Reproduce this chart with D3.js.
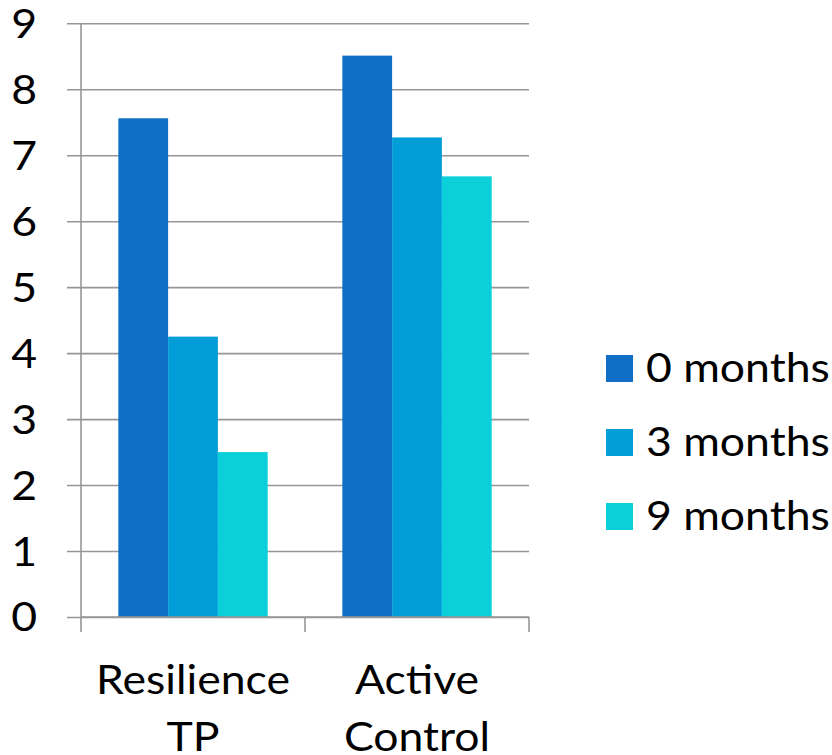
<!DOCTYPE html>
<html>
<head>
<meta charset="utf-8">
<script src="https://cdn.jsdelivr.net/npm/d3@7"></script>
<style>
  html, body { margin: 0; padding: 0; background: #fff; }
  svg { display: block; }
  text { font-family: Lato, "Open Sans", sans-serif; fill: #000; }
</style>
</head>
<body>
<svg id="chart" width="832" height="755"></svg>
<script>
// Groups on the x axis (each label split over two lines)
const categories = ["Resilience TP", "Active Control"];
const categoryLines = [["Resilience", "TP"], ["Active", "Control"]];
// Series: follow-up time points
const seriesNames = ["0 months", "3 months", "9 months"];
const seriesColors = ["#0F6FC6", "#009DD9", "#0BD0D9"];
// Values per series, in category order
const values0 = [7.56, 8.51];
const values3 = [4.25, 7.27];
const values9 = [2.5, 6.68];
const seriesValues = [values0, values3, values9];
const yTicks = [0, 1, 2, 3, 4, 5, 6, 7, 8, 9];

const svg = d3.select("#chart");
const plot = { left: 81, right: 529, top: 23.3, bottom: 617 };

// Text styling: slightly widened glyphs for a Calibri-like look
const fontSize = 40.5;
const stretch = 1.1;
const capHalf = fontSize * 0.716 / 2;

const x = d3.scaleBand()
  .domain(categories)
  .range([plot.left, plot.right])
  .paddingInner(0)
  .paddingOuter(0);

// Gap width 150%: bar group occupies 3/(3+1.5) of each band
const inner = d3.scaleBand()
  .domain(seriesNames)
  .range([0, x.bandwidth()])
  .paddingOuter(0.75)
  .paddingInner(0);

const y = d3.scaleLinear().domain([0, 9]).range([plot.bottom, plot.top]);

const gridColor = "#969696";

// Horizontal gridlines with short tick stubs to the left of the axis
const yAxis = d3.axisLeft(y)
  .tickValues(yTicks)
  .tickSize(-(plot.right - plot.left))
  .tickFormat("");
const gy = svg.append("g")
  .attr("transform", `translate(${plot.left},0)`)
  .call(yAxis);
gy.select(".domain").remove();
gy.selectAll(".tick line")
  .attr("x1", -14)
  .attr("stroke", gridColor)
  .attr("stroke-width", 1.6);

// Bars
const groups = svg.append("g")
  .selectAll("g")
  .data(seriesNames)
  .join("g")
  .attr("fill", (d, i) => seriesColors[i]);

groups.selectAll("rect")
  .data((s, si) => categories.map((c, ci) => ({ c, s, v: seriesValues[si][ci] })))
  .join("rect")
  .attr("x", d => x(d.c) + inner(d.s))
  .attr("width", inner.bandwidth())
  .attr("y", d => y(d.v))
  .attr("height", d => y(0) - y(d.v));

// Vertical value axis line
svg.append("line")
  .attr("x1", plot.left).attr("x2", plot.left)
  .attr("y1", plot.top).attr("y2", plot.bottom + 15)
  .attr("stroke", gridColor).attr("stroke-width", 1.6);

// Category axis: baseline and separators between groups
const gx = svg.append("g")
  .attr("transform", `translate(0,${plot.bottom})`);
gx.append("line")
  .attr("x1", plot.left).attr("x2", plot.right)
  .attr("stroke", gridColor).attr("stroke-width", 1.6);
gx.selectAll("line.sep")
  .data(categories)
  .join("line")
  .attr("class", "sep")
  .attr("x1", d => x(d) + x.bandwidth())
  .attr("x2", d => x(d) + x.bandwidth())
  .attr("y1", 0).attr("y2", 15)
  .attr("stroke", gridColor).attr("stroke-width", 1.6);

// Y tick labels
svg.append("g")
  .selectAll("text")
  .data(yTicks)
  .join("text")
  .attr("transform", d => `translate(37,${y(d) + capHalf}) scale(${stretch},1)`)
  .attr("text-anchor", "end")
  .attr("font-size", fontSize)
  .text(d => d);

// Category labels, two lines each
const catGroups = svg.append("g")
  .selectAll("g")
  .data(categories)
  .join("g")
  .attr("transform", d => `translate(${x(d) + x.bandwidth() / 2},0)`);
catGroups.selectAll("text")
  .data((d, i) => categoryLines[i])
  .join("text")
  .attr("transform", (d, i) => `translate(0,${694 + i * 57}) scale(${stretch},1)`)
  .attr("text-anchor", "middle")
  .attr("font-size", fontSize)
  .text(d => d);

// Legend
const legend = svg.append("g")
  .selectAll("g")
  .data(seriesNames)
  .join("g")
  .attr("transform", (d, i) => `translate(606,${355 + i * 74})`);
legend.append("rect")
  .attr("width", 27).attr("height", 27)
  .attr("fill", (d, i) => seriesColors[i]);
legend.append("text")
  .attr("transform", `translate(40,26.5) scale(${stretch},1)`)
  .attr("font-size", fontSize)
  .text(d => d);
</script>
</body>
</html>
